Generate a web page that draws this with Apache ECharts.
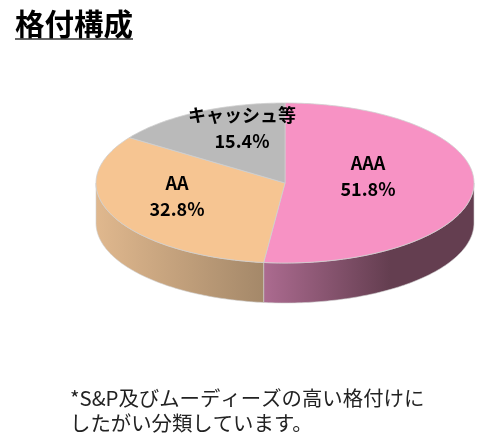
<!DOCTYPE html>
<html>
<head>
<meta charset="utf-8">
<style>
html, body { margin: 0; padding: 0; background: #fff; }
#main { width: 483px; height: 438px; }
</style>
<script src="https://cdn.jsdelivr.net/npm/echarts@6/dist/echarts.min.js"></script>
</head>
<body>
<div id="main"></div>
<script>
var categories = ['AAA', 'AA', 'キャッシュ等'];
var shares = [51.8, 32.8, 15.4];
var topColors = ['#F792C4', '#F6C592', '#BABABA'];
var wallStops = [
    [[0, '#AC6B90'], [0.6, '#643E50'], [1, '#643E50']],
    [[0, '#E0B88E'], [1, '#A48869']],
    null
];
var labelSpots = [[368, 176], [177, 196], [242, 128]];

var FONT = '"Noto Sans CJK JP", sans-serif';
var cx = 285, cy = 183, rx = 189, ry = 80, depth = 40;

function rimPoint(deg, drop) {
    var a = deg * Math.PI / 180;
    return [cx + rx * Math.sin(a), cy - ry * Math.cos(a) + drop];
}

function renderSlice(params, api) {
    var i = params.dataIndex;
    var from = 0;
    for (var k = 0; k < i; k++) {
        from += shares[k] * 3.6;
    }
    var to = from + api.value(1) * 3.6;
    var children = [];

    // side wall only shows on the front half of the disc
    var wallFrom = Math.max(from, 90), wallTo = Math.min(to, 270);
    if (wallStops[i] && wallTo > wallFrom) {
        var upper = [], lower = [];
        for (var d = wallFrom; d < wallTo; d += 1) {
            upper.push(rimPoint(d, 0));
            lower.unshift(rimPoint(d, depth));
        }
        upper.push(rimPoint(wallTo, 0));
        lower.unshift(rimPoint(wallTo, depth));
        children.push({
            type: 'polygon',
            shape: { points: upper.concat(lower) },
            style: {
                fill: new echarts.graphic.LinearGradient(0, 0, 1, 0, wallStops[i].map(function (s) {
                    return { offset: s[0], color: s[1] };
                })),
                stroke: '#D0D0D0',
                lineWidth: 0.6
            }
        });
    }

    var pts = [[cx, cy]];
    for (var t = from; t < to; t += 1) {
        pts.push(rimPoint(t, 0));
    }
    pts.push(rimPoint(to, 0));
    children.push({
        type: 'polygon',
        shape: { points: pts },
        style: { fill: topColors[i], stroke: '#CFCFCF', lineWidth: 0.8 }
    });

    children.push({
        type: 'text',
        x: labelSpots[i][0],
        y: labelSpots[i][1],
        z2: 10,
        style: {
            text: categories[i] + '\n' + api.value(1).toFixed(1) + '%',
            fill: '#000',
            font: 'bold 18px ' + FONT,
            lineHeight: 26,
            align: 'center',
            verticalAlign: 'middle'
        }
    });
    return { type: 'group', children: children };
}

var myChart = echarts.init(document.getElementById('main'), null, { renderer: 'canvas' });
myChart.setOption({
    animation: false,
    backgroundColor: '#fff',
    title: {
        text: '格付構成',
        left: 15,
        top: 8,
        padding: 0,
        textStyle: { fontFamily: FONT, fontSize: 29.5, fontWeight: 'bold', color: '#000', lineHeight: 32 }
    },
    graphic: [
        { type: 'rect', shape: { x: 15, y: 38, width: 118, height: 2 }, style: { fill: '#666' } },
        {
            type: 'text',
            x: 70,
            y: 411,
            style: {
                text: '*S&P及びムーディーズの高い格付けに\nしたがい分類しています。',
                font: '400 20.4px ' + FONT,
                fill: '#222',
                lineHeight: 25,
                verticalAlign: 'middle'
            }
        }
    ],
    series: [{
        type: 'custom',
        coordinateSystem: 'none',
        renderItem: renderSlice,
        data: categories.map(function (c, i) { return [i, shares[i]]; })
    }]
});
</script>
</body>
</html>
